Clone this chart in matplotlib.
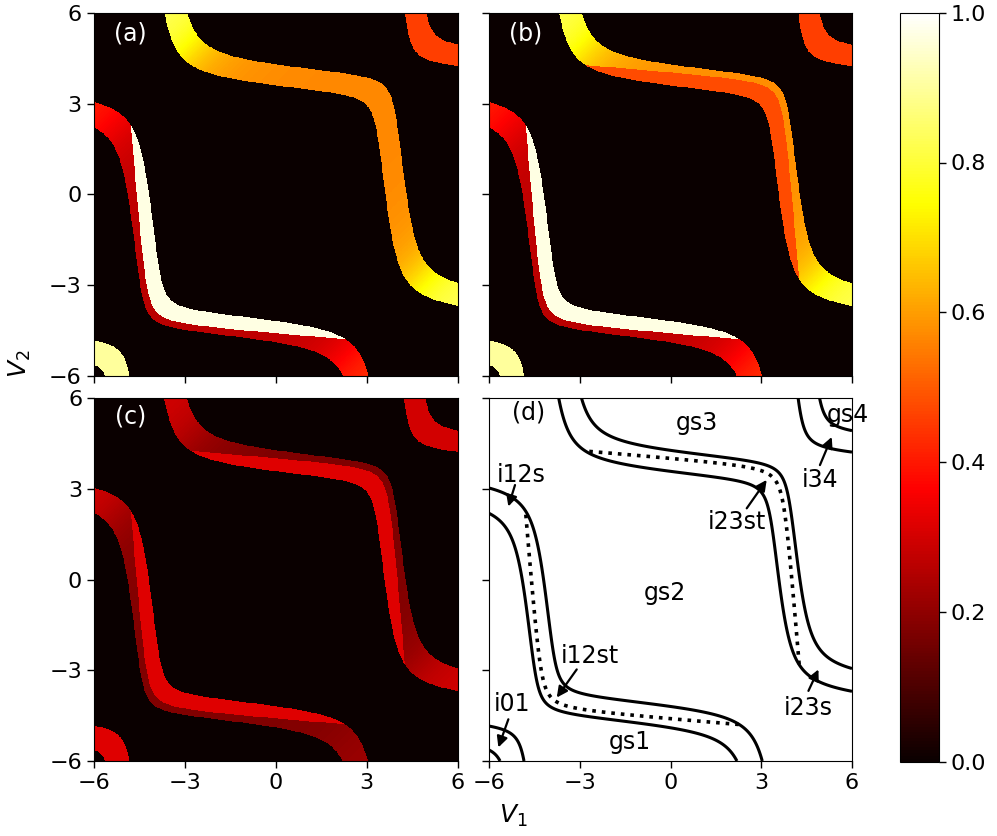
import numpy as np
import matplotlib
matplotlib.use('Agg')
import matplotlib.pyplot as plt

plt.rcParams['font.family'] = ['DejaVu Sans']

# ---------------- model parameters (double quantum dot, Hubbard) ----------------
gate_lim = [-6.0, 6.0]
tick_vals = [-6, -3, 0, 3, 6]
cbar_ticks = [0.0, 0.2, 0.4, 0.6, 0.8, 1.0]
e_offset = -5.19      # level offset
kappa = 0.08          # cross capacitance
t_hop = 0.40          # interdot tunnelling
t_sing = 0.55         # (1,1)S - (2,0)/(0,2) coupling
U_on = 8.07           # on-site charging energy
U_inter = 1.194       # inter-dot charging energy
dE_trip = 0.02        # triplet offset
mu_window = [0.0, 0.66]   # drain, source

# ---------------- colour values of each region, per panel ----------------
# [i01, i12s_mid, i12s_w02, i12s_w20, i12st, i23s_mid, i23s_wd, i23st, i34]
panel_vals = {
    'a': [0.90, 0.26, 0.17, 0.20, 0.97, 0.56, 0.30, None, 0.46],
    'b': [0.90, 0.26, 0.17, 0.20, 0.97, 0.57, 0.28, 0.48, 0.46],
    'c': [0.32, 0.175, 0.14, 0.05, 0.32, 0.17, 0.14, 0.32, 0.30],
}
panel_names = ['(a)', '(b)', '(c)', '(d)']

# ---------------- compute ----------------
n = 801
v = np.linspace(gate_lim[0], gate_lim[1], n)
V1, V2 = np.meshgrid(v, v)
e1 = e_offset - (V1 + kappa * V2)
e2 = e_offset - (V2 + kappa * V1)
m = (e1 + e2) / 2
h = (e1 - e2) / 2
E1 = m - np.sqrt(h ** 2 + t_hop ** 2)

H = np.zeros(V1.shape + (3, 3))
H[..., 0, 0] = e1 + e2 + U_inter
H[..., 1, 1] = 2 * e1 + U_on
H[..., 2, 2] = 2 * e2 + U_on
cpl = np.sqrt(2) * t_sing
H[..., 0, 1] = H[..., 1, 0] = -cpl
H[..., 0, 2] = H[..., 2, 0] = -cpl
w, vec = np.linalg.eigh(H)
E2S = w[..., 0]
w20 = vec[..., 1, 0] ** 2
w02 = vec[..., 2, 0] ** 2
E2T = e1 + e2 + U_inter + dE_trip
E3 = 3 * m + U_on + 2 * U_inter - np.sqrt(h ** 2 + t_hop ** 2)
E4 = 4 * m + 2 * U_on + 4 * U_inter

mu1 = E1
mu2S = E2S - E1
mu2T = E2T - E1
mu3S = E3 - E2S
mu3T = E3 - E2T
mu4 = E4 - E3
muD, muS = mu_window

B01 = (mu1 > muD) & (mu1 < muS)
B12 = (mu2S > muD) & (mu2S < muS)
st12 = B12 & (mu2T < muS)
B23 = (mu3S > muD) & (mu3S < muS)
st23 = B23 & (mu3T > muD)
B34 = (mu4 > muD) & (mu4 < muS)


def panel_image(p):
    i01, a_mid, a02, a20, a_st, b_mid, b_wd, b_st, i34 = panel_vals[p]
    img = np.zeros_like(V1)
    img[B01] = i01
    img[B34] = i34
    val12 = a_mid + a02 * w02 + a20 * w20
    img[B12] = val12[B12]
    img[st12] = a_st
    val23 = b_mid + b_wd * (w02 + w20)
    img[B23] = val23[B23]
    if b_st is not None:
        img[st23] = b_st
    return img


# ---------------- figure ----------------
W, Hh = 997, 836
fig = plt.figure(figsize=(W / 100, Hh / 100), dpi=100)


def rect(x0, y0, x1, y1):
    return [x0 / W, 1 - y1 / Hh, (x1 - x0) / W, (y1 - y0) / Hh]


boxes = [(93.5, 12.7, 458, 376), (489, 12.7, 852, 376),
         (94, 398.3, 457.7, 761), (489, 398.3, 852, 761)]
axes = [fig.add_axes(rect(*b)) for b in boxes]

im = None
for k, p in enumerate(['a', 'b', 'c']):
    ax = axes[k]
    im = ax.imshow(panel_image(p), extent=[-6, 6, -6, 6], origin='lower',
                   cmap='hot', vmin=0, vmax=1, interpolation='nearest',
                   aspect='auto')

axd = axes[3]
lvl = [muD, muS]
for fld in (mu1, mu2S, mu3S, mu4):
    axd.contour(V1, V2, fld, lvl, colors='k', linewidths=2.2)
axd.contour(V1, V2, np.where(B12, mu2T, np.nan), [muS], colors='k',
            linewidths=2.6, linestyles=':')
axd.contour(V1, V2, np.where(B23, mu3T, np.nan), [muD], colors='k',
            linewidths=2.6, linestyles=':')

for k, ax in enumerate(axes):
    ax.set_xlim(-6, 6)
    ax.set_ylim(-6, 6)
    ax.set_xticks(tick_vals)
    ax.set_yticks(tick_vals)
    ax.tick_params(labelsize=16, length=5, width=1)
    if k < 2:
        ax.set_xticklabels([])
    if k % 2 == 1:
        ax.set_yticklabels([])

lab_pos = [(0.10, 0.943), (0.10, 0.943), (0.10, 0.95), (0.108, 0.962)]
for k, ax in enumerate(axes):
    ax.text(lab_pos[k][0], lab_pos[k][1], panel_names[k], transform=ax.transAxes,
            ha='center', va='center', fontsize=17,
            color='white' if k < 3 else 'black')

# annotations in (d)
region_labels = [('gs1', -1.34, -5.38), ('gs2', -0.18, -0.44),
                 ('gs3', 0.87, 5.17), ('gs4', 5.87, 5.45)]
for txt, x, y in region_labels:
    axd.text(x, y, txt, ha='center', va='center', fontsize=17, clip_on=False)

arrow_labels = [('i12s', (-4.92, 3.46), (-5.14, 3.13), (-5.36, 2.42)),
                ('i23st', (2.19, 1.92), (2.52, 2.36), (3.18, 3.30)),
                ('i34', (4.94, 3.30), (4.94, 3.79), (5.33, 4.72)),
                ('i12st', (-2.66, -2.53), (-3.10, -2.97), (-3.76, -3.90)),
                ('i01', (-5.25, -4.12), (-5.36, -4.62), (-5.69, -5.55)),
                ('i23s', (4.56, -4.23), (4.56, -3.68), (4.89, -2.97))]
for txt, tp, tail, head in arrow_labels:
    axd.text(tp[0], tp[1], txt, ha='center', va='center', fontsize=17)
    axd.annotate('', xy=head, xytext=tail,
                 arrowprops=dict(arrowstyle='-|>', color='k', lw=1.6,
                                 mutation_scale=16, shrinkA=0, shrinkB=0))

cax = fig.add_axes(rect(900.3, 12.7, 938.7, 761.7))
cb = fig.colorbar(im, cax=cax, ticks=cbar_ticks)
cb.ax.set_yticklabels(['%.1f' % c for c in cbar_ticks])
cb.ax.tick_params(labelsize=16, length=5, width=1)

fig.text(513 / W, 1 - 816 / Hh, r'$V_1$', ha='center', va='center', fontsize=18)
fig.text(20 / W, 1 - 364 / Hh, r'$V_2$', ha='center', va='center', fontsize=18,
         rotation=90)

fig.savefig('out.png', dpi=100)
